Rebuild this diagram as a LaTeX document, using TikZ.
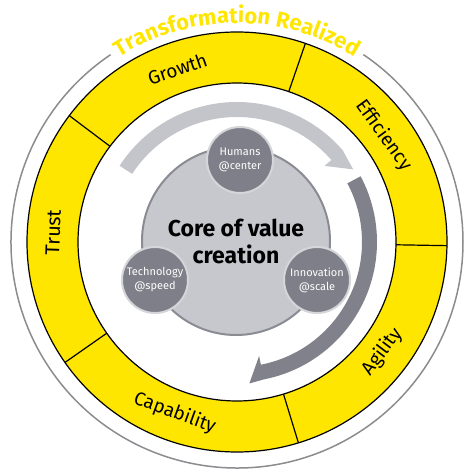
\documentclass[tikz,border=0pt]{standalone}
\usepackage{fontspec}
\setmainfont{Fira Sans}
\usepackage{tikz}
\usetikzlibrary{decorations.text}
\definecolor{eyyellow}{HTML}{FFE600}
\definecolor{ringgray}{HTML}{8C8C90}
\definecolor{arrowlight}{HTML}{C4C5CB}
\definecolor{arrowdark}{HTML}{80818A}
\definecolor{corefill}{HTML}{C7C8CE}
\definecolor{coreline}{HTML}{8B8B93}
\definecolor{pillarfill}{HTML}{7E7F88}
\definecolor{pillarline}{HTML}{D5D6DA}

\begin{document}
\begin{tikzpicture}[x=1pt, y=1pt,
    seglabel/.style={font=\fontsize{19}{22}\selectfont, text=black, inner sep=0pt},
    core/.style={circle, draw=coreline, fill=corefill, line width=2pt, minimum size=188pt, align=center, font=\bfseries\fontsize{23}{27}\selectfont},
    pillar/.style={circle, draw=pillarline, fill=pillarfill, line width=2pt, minimum size=66pt, inner sep=0pt, align=center, text=white, font=\fontsize{11}{14}\selectfont},
    divider/.style={black, line width=1.2pt}
]
\useasboundingbox (-237,-232) rectangle (237,242);

% outer ring and title
\draw[ringgray, line width=1.5pt] (124:226) arc (124:416:226);
\path[decorate, decoration={text along path, text align=center,
    text={|\bfseries\fontsize{22}{24}\selectfont\color{eyyellow}|Transformation Realized}}]
    (126:219) arc (126:54:219);

% yellow ring
\fill[eyyellow, even odd rule] (0,0) circle (210) (0,0) circle (159);
\draw[divider] (0,0) circle (210);
\draw[divider] (0,0) circle (159);
\foreach \a in {-1,71,143,215,287}
  \draw[divider] (\a:159) -- (\a:210);

\node[seglabel, rotate=19] (growth) at (109:183) {Growth};
\node[seglabel, rotate=-54] (efficiency) at (36:181) {Efficiency};
\node[seglabel, rotate=53] (agility) at (323:182) {Agility};
\node[seglabel, rotate=-20] (capability) at (250:182) {Capability};
\node[seglabel, rotate=88] (trust) at (177:184) {\fontsize{20}{22}\selectfont Trust};

% circular arrows
\fill[arrowlight] (147:140) arc (147:41:140) -- (32:137) -- (41:116) -- (41:125) arc (41:147:125) -- cycle;
\fill[arrowdark] (28:140) arc (28:-79:140) -- (-85:142) -- (-79:116) -- (-79:125) arc (-79:28:125) -- cycle;

% core
\node[core] (core) at (-1,1) {Core of value\\creation};
\node[pillar] (humans) at (3,82) {Humans\\@center};
\node[pillar] (technology) at (-82,-38) {Technology\\@speed};
\node[pillar] (innovation) at (80,-38) {Innovation\\@scale};
\end{tikzpicture}
\end{document}
